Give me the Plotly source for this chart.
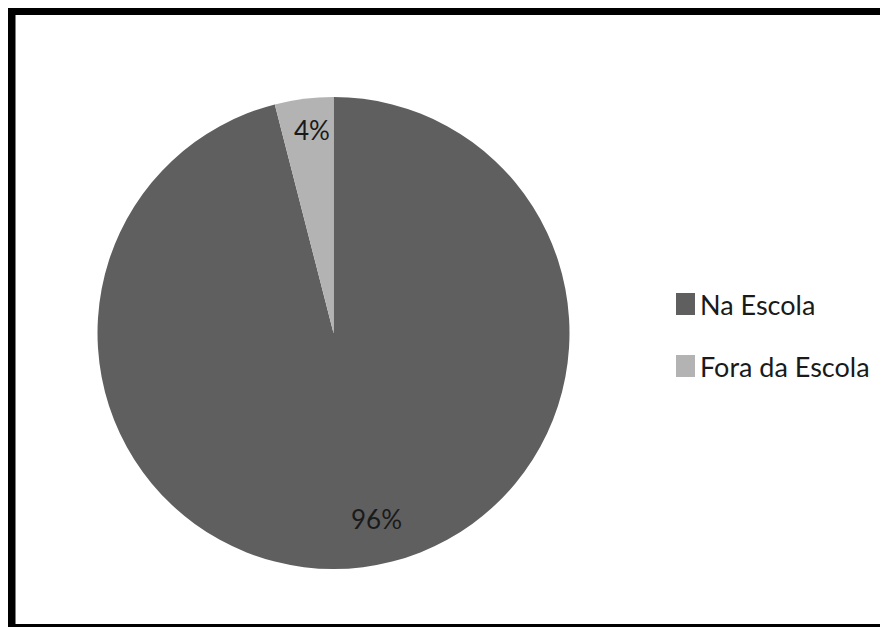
import plotly.graph_objects as go

# Data
categories = ["Na Escola", "Fora da Escola"]
values = [96, 4]
colors = ["#5f5f5f", "#b3b3b3"]

W, H = 888, 627
OFF = 8  # page body margin

def px(x):
    return (x - OFF) / W

def py(y):
    return 1 - (y - OFF) / H

cx, cy, r = 333.5, 333, 236

total = sum(values)
pct_text = [f"{v / total * 100:.0f}%" for v in values]

fig = go.Figure()
fig.add_trace(go.Pie(
    labels=categories,
    values=values,
    sort=False,
    direction="clockwise",
    rotation=0,
    marker=dict(colors=colors, line=dict(width=0)),
    textinfo="none",
    showlegend=False,
    domain=dict(x=[px(cx - r), px(cx + r)], y=[py(cy + r), py(cy - r)]),
    hoverinfo="label+percent",
))

font = dict(family="Lato, Liberation Sans, sans-serif", size=26, color="#1a1a1a")
legend_font = dict(family="Lato, Liberation Sans, sans-serif", size=27, color="#1a1a1a")

shapes = [
    dict(type="rect", xref="paper", yref="paper",
         x0=px(11.5), x1=px(893), y0=py(628), y1=py(11),
         line=dict(color="black", width=8), fillcolor="rgba(0,0,0,0)")
]
annotations = []

# percent labels
label_pos = [(376, 519), (312, 130)]
for t, (lx, ly) in zip(pct_text, label_pos):
    annotations.append(dict(text=t, xref="paper", yref="paper",
                            x=px(lx), y=py(ly), xanchor="center", yanchor="middle",
                            showarrow=False, font=font))

# legend
legend_y = [304, 366]
for i, (lab, col) in enumerate(zip(categories, colors)):
    yc = legend_y[i]
    shapes.append(dict(type="rect", xref="paper", yref="paper",
                       x0=px(676), x1=px(695), y0=py(yc + 11), y1=py(yc - 11),
                       line=dict(width=0), fillcolor=col))
    annotations.append(dict(text=lab, xref="paper", yref="paper",
                            x=px(698), y=py(yc), xanchor="left", yanchor="middle",
                            showarrow=False, font=legend_font))

fig.update_layout(
    width=W, height=H,
    margin=dict(l=0, r=0, t=0, b=0),
    paper_bgcolor="white",
    plot_bgcolor="white",
    shapes=shapes,
    annotations=annotations,
)

fig.write_html("out.html")
